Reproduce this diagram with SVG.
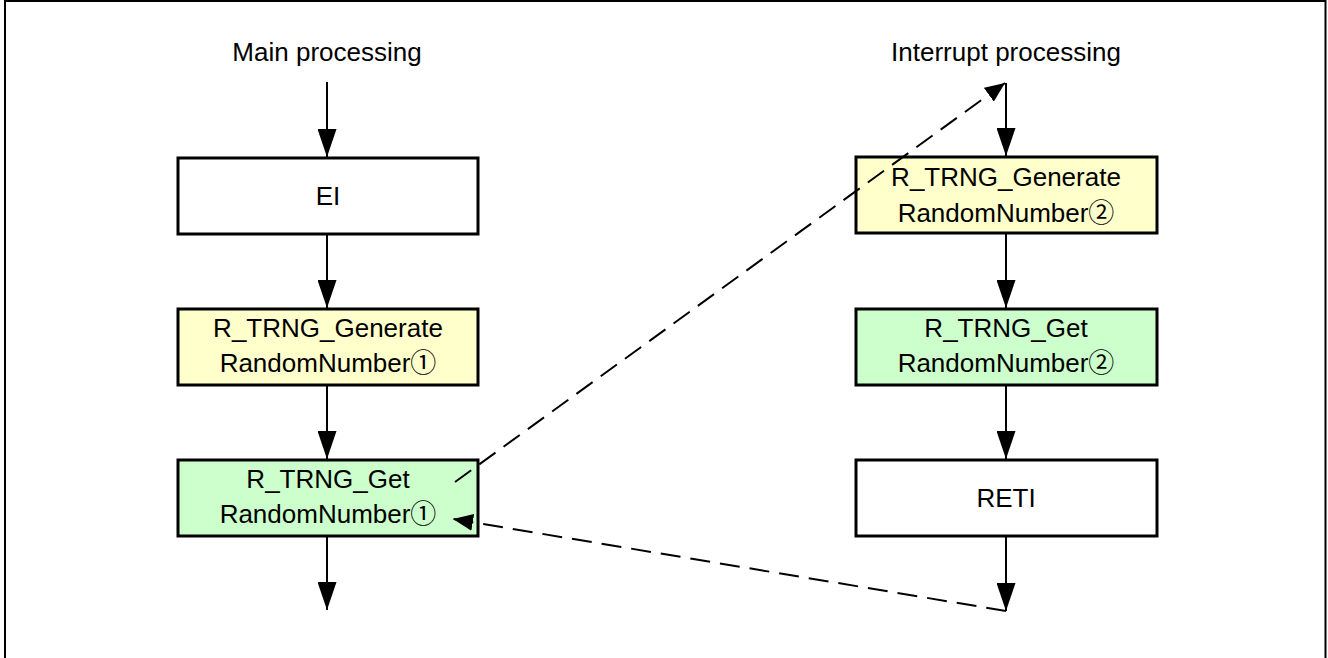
<svg xmlns="http://www.w3.org/2000/svg" width="1328" height="658" viewBox="0 0 1328 658">
  <style>
    .frame { fill: none; stroke: #000; stroke-width: 2; }
    .box { stroke: #000; stroke-width: 3; }
    .plain { fill: #FFFFFF; }
    .gen { fill: #FFFFCC; }
    .get { fill: #CCFFCC; }
    .label { font-family: "Liberation Sans", Arial, "Noto Sans CJK JP", sans-serif; font-size: 26px; fill: #000; text-anchor: middle; }
    .flow { fill: none; stroke: #000; stroke-width: 2; marker-end: url(#head); }
    .jump { fill: none; stroke: #000; stroke-width: 2; stroke-dasharray: 20 10; marker-end: url(#headSmall); }
  </style>
  <defs>
    <marker id="head" markerUnits="userSpaceOnUse" markerWidth="28" markerHeight="19" refX="28" refY="9.5" orient="auto">
      <path d="M0,0 L28,9.5 L0,19 z" fill="#000"/>
    </marker>
    <marker id="headSmall" markerUnits="userSpaceOnUse" markerWidth="20" markerHeight="17" refX="20" refY="8.5" orient="auto">
      <path d="M0,0 L20,8.5 L0,17 z" fill="#000"/>
    </marker>
  </defs>

  <rect width="1328" height="658" fill="#FFFFFF"/>
  <path class="frame" d="M5,660 V1 H1325.5 V660"/>

  <!-- column titles -->
  <text class="label" x="327" y="61">Main processing</text>
  <text class="label" x="1006" y="61">Interrupt processing</text>

  <!-- main processing column -->
  <g id="ei">
    <rect class="box plain" x="178" y="158" width="300" height="76"/>
    <text class="label" x="328" y="205">EI</text>
  </g>
  <g id="generate1">
    <rect class="box gen" x="178" y="309" width="300" height="76"/>
    <text class="label" x="328" y="337">R_TRNG_Generate</text>
    <text class="label" x="328" y="372">RandomNumber①</text>
  </g>
  <g id="get1">
    <rect class="box get" x="178" y="460" width="300" height="76"/>
    <text class="label" x="328" y="488">R_TRNG_Get</text>
    <text class="label" x="328" y="523">RandomNumber①</text>
  </g>

  <!-- interrupt processing column -->
  <g id="generate2">
    <rect class="box gen" x="856" y="157" width="301" height="76"/>
    <text class="label" x="1006" y="186">R_TRNG_Generate</text>
    <text class="label" x="1006" y="222">RandomNumber②</text>
  </g>
  <g id="get2">
    <rect class="box get" x="856" y="309" width="301" height="76"/>
    <text class="label" x="1006" y="337">R_TRNG_Get</text>
    <text class="label" x="1006" y="372">RandomNumber②</text>
  </g>
  <g id="reti">
    <rect class="box plain" x="856" y="460" width="301" height="76"/>
    <text class="label" x="1006" y="507">RETI</text>
  </g>

  <g id="connectors">
    <line class="flow" x1="327" y1="82" x2="327" y2="157"/>
    <line class="flow" x1="327" y1="235" x2="327" y2="308"/>
    <line class="flow" x1="327" y1="386" x2="327" y2="459"/>
    <line class="flow" x1="327" y1="537" x2="327" y2="610"/>

    <line class="flow" x1="1006" y1="83" x2="1006" y2="156"/>
    <line class="flow" x1="1006" y1="234" x2="1006" y2="308"/>
    <line class="flow" x1="1006" y1="386" x2="1006" y2="459"/>
    <line class="flow" x1="1006" y1="537" x2="1006" y2="611"/>

    <!-- interrupt entry and return -->
    <line class="jump" x1="455" y1="482" x2="1005" y2="83"/>
    <line class="jump" x1="1006" y1="611" x2="453" y2="519"/>
  </g>
</svg>
